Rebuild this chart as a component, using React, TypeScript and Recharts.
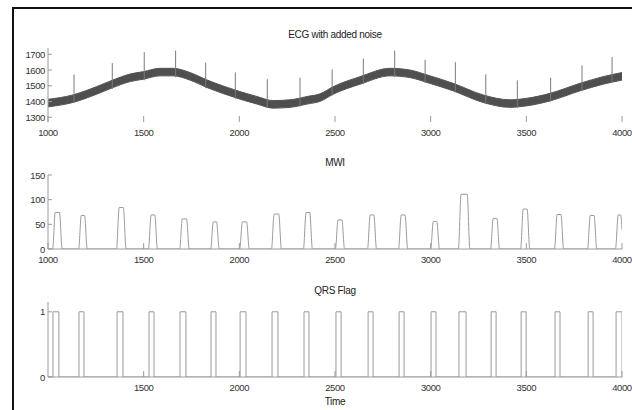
import React from "react";
import { ComposedChart, Area, Line, XAxis, YAxis } from "recharts";

// ECG baseline band
const ecgX = [1000, 1130, 1255, 1340, 1430, 1500, 1585, 1655, 1742, 1831, 1915, 2004, 2092, 2176, 2265, 2354, 2422, 2490, 2631, 2788, 2892, 2981, 3117, 3274, 3415, 3504, 3624, 3781, 3901, 4000];
const ecgLow = [1366, 1394, 1447, 1489, 1527, 1542, 1563, 1563, 1536, 1489, 1451, 1415, 1384, 1358, 1363, 1384, 1401, 1446, 1510, 1563, 1552, 1521, 1468, 1394, 1363, 1373, 1404, 1468, 1510, 1536];
const ecgHigh = [1414, 1442, 1495, 1537, 1575, 1590, 1611, 1611, 1584, 1537, 1499, 1463, 1432, 1406, 1411, 1432, 1449, 1494, 1558, 1611, 1600, 1569, 1516, 1442, 1411, 1421, 1452, 1516, 1558, 1584];

// R peaks
const spikeX = [1136, 1336, 1503, 1667, 1824, 1979, 2146, 2317, 2485, 2648, 2812, 2971, 3129, 3288, 3453, 3627, 3791, 3948];
const spikeLow = [1390, 1480, 1535, 1555, 1485, 1418, 1360, 1368, 1438, 1510, 1555, 1518, 1458, 1384, 1360, 1400, 1466, 1520];
const spikeTop = [1572, 1644, 1713, 1724, 1648, 1585, 1542, 1551, 1604, 1672, 1724, 1665, 1650, 1572, 1534, 1551, 1629, 1682];

// MWI bumps
const mwiOn = [1024, 1160, 1358, 1525, 1688, 1850, 2002, 2168, 2335, 2502, 2670, 2832, 3000, 3145, 3313, 3470, 3647, 3820];
const mwiOff = [1074, 1205, 1408, 1572, 1738, 1895, 2052, 2220, 2382, 2550, 2717, 2880, 3046, 3205, 3360, 3518, 3695, 3868];
const mwiPeak = [74, 68, 84, 69, 61, 55, 55, 71, 74, 59, 69, 69, 56, 111, 62, 81, 70, 68];

// QRS flag pulses
const qrsOn = [1026, 1162, 1361, 1528, 1690, 1852, 2004, 2171, 2338, 2505, 2673, 2835, 3002, 3148, 3316, 3473, 3650, 3823, 3969];
const qrsOff = [1057, 1188, 1392, 1554, 1721, 1878, 2035, 2202, 2364, 2532, 2699, 2861, 3028, 3185, 3342, 3499, 3676, 3849, 4000];

const xTicks = [1000, 1500, 2000, 2500, 3000, 3500, 4000];
const xTicksQrs = [1500, 2000, 2500, 3000, 3500, 4000];
const ecgTicks = [1300, 1400, 1500, 1600, 1700];
const mwiTicks = [0, 50, 100, 150];
const qrsTicks = [0, 1];

const FONT = "'Liberation Sans Narrow', 'Liberation Sans', Arial, sans-serif";
const AXIS = "#9a9a9a";

const ecgBand = ecgX.map((x, i) => ({ x, band: [ecgLow[i], ecgHigh[i]] }));
const spikeData = spikeX.flatMap((x, i) => [
  { x, y: spikeLow[i] },
  { x, y: spikeTop[i] },
  { x, y: null },
]);

const mwiData: { x: number; y: number }[] = [{ x: 1000, y: 0 }];
mwiOn.forEach((on, i) => {
  mwiData.push({ x: on, y: 0 }, { x: on + 14, y: mwiPeak[i] }, { x: mwiOff[i] - 14, y: mwiPeak[i] }, { x: mwiOff[i], y: 0 });
});
mwiData.push({ x: 3966, y: 0 }, { x: 3980, y: 69 }, { x: 3993, y: 69 }, { x: 4000, y: 39 });

const qrsData: { x: number; y: number }[] = [{ x: 1000, y: 0 }];
qrsOn.forEach((on, i) => {
  qrsData.push({ x: on, y: 0 }, { x: on, y: 1 }, { x: qrsOff[i], y: 1 }, { x: qrsOff[i], y: 0 });
});

const XTick = (props: any) => {
  const { x, y, payload } = props;
  return (
    <g>
      <line x1={x} x2={x} y1={y} y2={y - 6} stroke={AXIS} />
      <text x={x} y={y + 14} textAnchor="middle" fontSize={9.5} letterSpacing={-0.4} fill="#333" fontFamily={FONT}>
        {payload.value}
      </text>
    </g>
  );
};

const YTick = (props: any) => {
  const { x, y, payload } = props;
  return (
    <g>
      <line x1={x} x2={x + 4} y1={y} y2={y} stroke={AXIS} />
      <text x={x - 3} y={y + 3.5} textAnchor="end" fontSize={9.5} letterSpacing={-0.4} fill="#333" fontFamily={FONT}>
        {payload.value}
      </text>
    </g>
  );
};

const title = (text: string, top: number) => (
  <div
    style={{
      position: "absolute",
      left: 235,
      width: 200,
      top,
      textAlign: "center",
      fontSize: 10,
      lineHeight: "10px",
      letterSpacing: -0.3,
      fontFamily: FONT,
      color: "#222",
    }}
  >
    {text}
  </div>
);

const App = () => {
  return (
    <div style={{ position: "absolute", left: 0, top: 0, width: 632, height: 410, background: "#fff", overflow: "hidden" }}>
      <div style={{ position: "absolute", left: 12, top: 7, width: 620, height: 2, background: "#111" }} />
      <div style={{ position: "absolute", left: 12, top: 7, width: 2, height: 403, background: "#111" }} />

      {title("ECG with added noise", 30)}
      <div style={{ position: "absolute", left: 0, top: 0 }}>
        <ComposedChart width={632} height={140} margin={{ top: 48, right: 10, bottom: 0, left: 8 }}>
          <XAxis dataKey="x" type="number" domain={[1000, 4000]} ticks={xTicks} interval={0} height={18} axisLine={false} tickLine={false} tickSize={0} tickMargin={0} tick={<XTick />} allowDataOverflow />
          <YAxis type="number" domain={[1270, 1740]} ticks={ecgTicks} interval={0} width={40} axisLine={{ stroke: AXIS }} tickLine={false} tickSize={0} tickMargin={0} tick={<YTick />} allowDataOverflow />
          <Area data={ecgBand} dataKey="band" type="monotone" stroke="#555" strokeWidth={1} fill="#4f4f4f" fillOpacity={1} isAnimationActive={false} />
          <Line data={spikeData} dataKey="y" type="linear" stroke="#7a7a7a" strokeWidth={1} dot={false} connectNulls={false} isAnimationActive={false} />
        </ComposedChart>
      </div>

      {title("MWI", 158)}
      <div style={{ position: "absolute", left: 0, top: 140 }}>
        <ComposedChart width={632} height={130} margin={{ top: 35, right: 10, bottom: 0, left: 8 }}>
          <XAxis dataKey="x" type="number" domain={[1000, 4000]} ticks={xTicks} interval={0} height={21} axisLine={{ stroke: AXIS }} tickLine={false} tickSize={0} tickMargin={0} tick={<XTick />} allowDataOverflow />
          <YAxis type="number" domain={[0, 150]} ticks={mwiTicks} interval={0} width={40} axisLine={{ stroke: AXIS }} tickLine={false} tickSize={0} tickMargin={0} tick={<YTick />} allowDataOverflow />
          <Line data={mwiData} dataKey="y" type="monotone" stroke="#9a9a9a" strokeWidth={1} dot={false} isAnimationActive={false} />
        </ComposedChart>
      </div>

      {title("QRS Flag", 286)}
      <div style={{ position: "absolute", left: 0, top: 270 }}>
        <ComposedChart width={632} height={140} margin={{ top: 32, right: 10, bottom: 0, left: 8 }}>
          <XAxis dataKey="x" type="number" domain={[1000, 4000]} ticks={xTicksQrs} interval={0} height={33} axisLine={{ stroke: AXIS }} tickLine={false} tickSize={0} tickMargin={0} tick={<XTick />} allowDataOverflow />
          <YAxis type="number" domain={[0, 1.15]} ticks={qrsTicks} interval={0} width={40} axisLine={{ stroke: AXIS }} tickLine={false} tickSize={0} tickMargin={0} tick={<YTick />} allowDataOverflow />
          <Line data={qrsData} dataKey="y" type="linear" stroke="#9a9a9a" strokeWidth={1} dot={false} isAnimationActive={false} />
        </ComposedChart>
      </div>
      {title("Time", 397)}
    </div>
  );
};

export default App;
